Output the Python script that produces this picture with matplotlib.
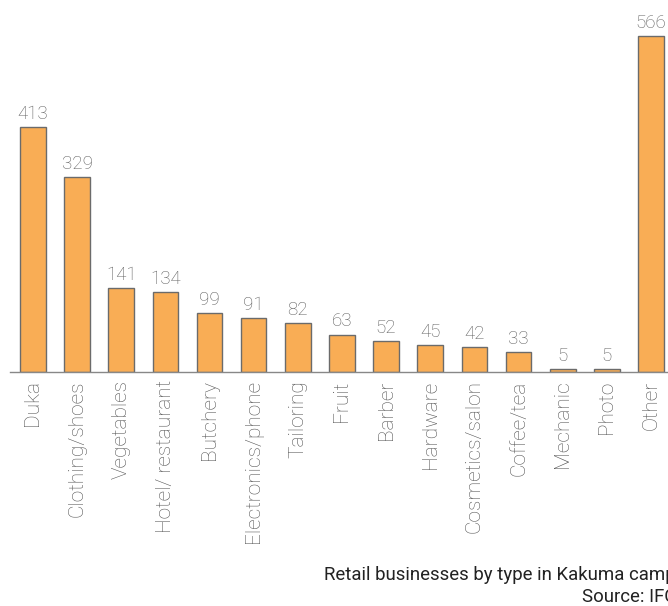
import matplotlib
matplotlib.use("Agg")
import matplotlib.pyplot as plt

categories = ["Duka", "Clothing/shoes", "Vegetables", "Hotel/ restaurant", "Butchery",
              "Electronics/phone", "Tailoring", "Fruit", "Barber", "Hardware",
              "Cosmetics/salon", "Coffee/tea", "Mechanic", "Photo", "Other"]
counts = [413, 329, 141, 134, 99, 91, 82, 63, 52, 45, 42, 33, 5, 5, 566]

caption = "Retail businesses by type in Kakuma camp"
source = "Source: IFC"

plt.rcParams["font.family"] = ["Roboto", "DejaVu Sans"]

W, H = 668, 606
fig = plt.figure(figsize=(W / 100, H / 100), dpi=100)
ax = fig.add_axes([10 / W, (H - 372) / H, 658 / W, 368 / H])

x = list(range(len(categories)))
bars = ax.bar(x, counts, width=0.58, color="#F9AD55", edgecolor="#6b6b6b", linewidth=1.0)

for xi, v in zip(x, counts):
    ax.annotate(str(v), (xi, v), xytext=(0, 3), textcoords="offset points",
                ha="center", va="bottom", fontsize=13.5, color="#5e5e5e",
                fontweight="light")

ax.set_xlim(-0.52, 14.385)
ax.set_ylim(0, 620)
ax.set_xticks(x)
ax.set_xticklabels(categories, rotation=90, fontsize=15, color="#555555",
                   fontweight="light")
ax.tick_params(axis="x", length=0, pad=6)
ax.set_yticks([])
for s in ["top", "right", "left"]:
    ax.spines[s].set_visible(False)
ax.spines["bottom"].set_color("#888888")
ax.spines["bottom"].set_linewidth(1.0)

fig.text(1.012, 1 - 580 / H, caption, ha="right", va="baseline", fontsize=13.4, color="#222222")
fig.text(1.012, 1 - 602 / H, source, ha="right", va="baseline", fontsize=13.4, color="#222222")

fig.savefig("out.png", dpi=100)
